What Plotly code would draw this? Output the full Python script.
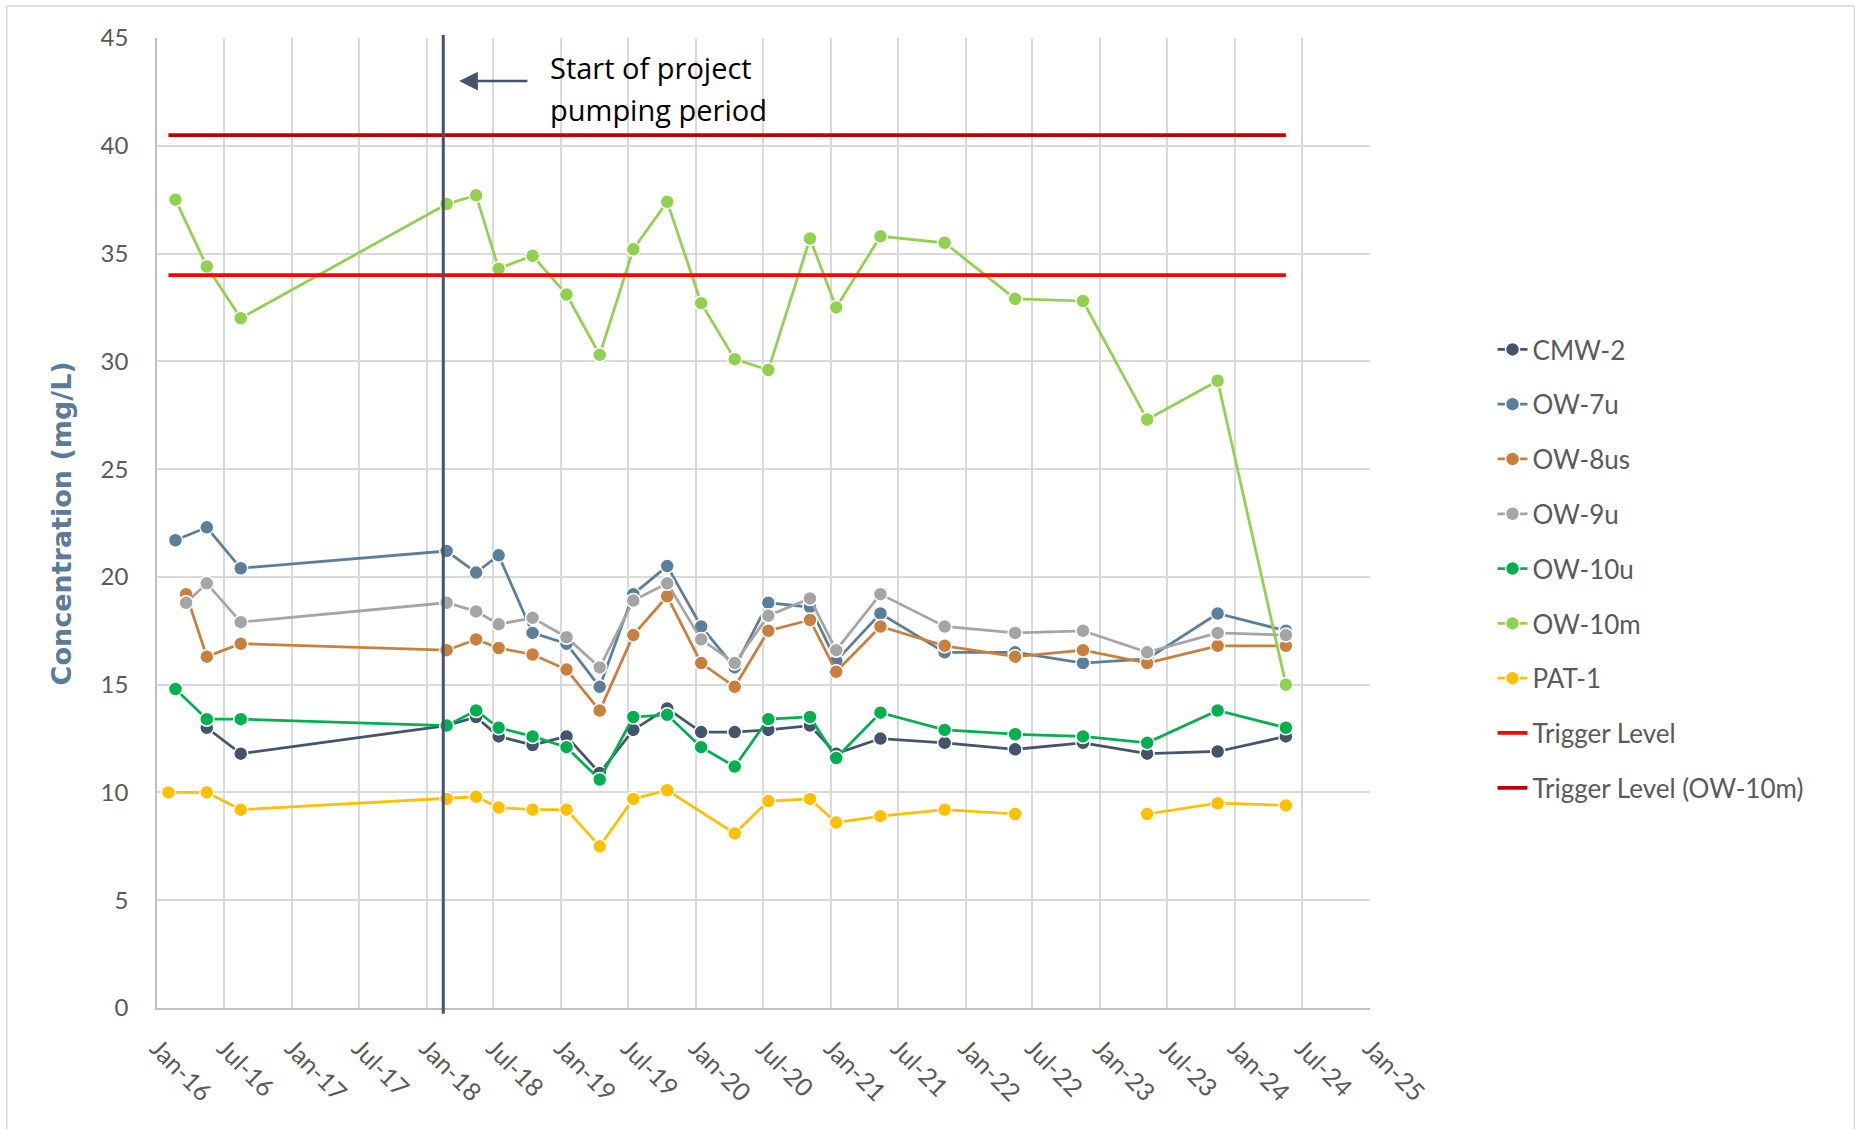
import plotly.graph_objects as go

# ---------------- data ----------------
dates = ["2016-02-20", "2016-03-20", "2016-05-15", "2016-08-15",
         "2018-02-24", "2018-05-15", "2018-07-15", "2018-10-15",
         "2019-01-15", "2019-04-15", "2019-07-15", "2019-10-15",
         "2020-01-15", "2020-04-15", "2020-07-15", "2020-11-05",
         "2021-01-15", "2021-05-15", "2021-11-05", "2022-05-15",
         "2022-11-15", "2023-05-08", "2023-11-15", "2024-05-18"]

cmw_2 = [None, None, 13.0, 11.8, 13.1, 13.5, 12.6, 12.2, 12.6, 10.9, 12.9, 13.9,
         12.8, 12.8, 12.9, 13.1, 11.8, 12.5, 12.3, 12.0, 12.3, 11.8, 11.9, 12.6]
ow_7u = [21.7, None, 22.3, 20.4, 21.2, 20.2, 21.0, 17.4, 16.9, 14.9, 19.2, 20.5,
         17.7, 15.8, 18.8, 18.6, 16.1, 18.3, 16.5, 16.5, 16.0, 16.2, 18.3, 17.5]
ow_8us = [None, 19.2, 16.3, 16.9, 16.6, 17.1, 16.7, 16.4, 15.7, 13.8, 17.3, 19.1,
          16.0, 14.9, 17.5, 18.0, 15.6, 17.7, 16.8, 16.3, 16.6, 16.0, 16.8, 16.8]
ow_9u = [None, 18.8, 19.7, 17.9, 18.8, 18.4, 17.8, 18.1, 17.2, 15.8, 18.9, 19.7,
         17.1, 16.0, 18.2, 19.0, 16.6, 19.2, 17.7, 17.4, 17.5, 16.5, 17.4, 17.3]
ow_10u = [14.8, None, 13.4, 13.4, 13.1, 13.8, 13.0, 12.6, 12.1, 10.6, 13.5, 13.6,
          12.1, 11.2, 13.4, 13.5, 11.6, 13.7, 12.9, 12.7, 12.6, 12.3, 13.8, 13.0]
ow_10m = [37.5, None, 34.4, 32.0, 37.3, 37.7, 34.3, 34.9, 33.1, 30.3, 35.2, 37.4,
          32.7, 30.1, 29.6, 35.7, 32.5, 35.8, 35.5, 32.9, 32.8, 27.3, 29.1, 15.0]

pat_dates = ["2016-02-01", "2016-05-15", "2016-08-15", "2018-02-24", "2018-05-15",
             "2018-07-15", "2018-10-15", "2019-01-15", "2019-04-15", "2019-07-15",
             "2019-10-15", "2020-04-15", "2020-07-15", "2020-11-05", "2021-01-15",
             "2021-05-15", "2021-11-05", "2022-05-15", "2022-11-15", "2023-05-08",
             "2023-11-15", "2024-05-18"]
pat_1 = [10.0, 10.0, 9.2, 9.7, 9.8, 9.3, 9.2, 9.2, 7.5, 9.7, 10.1, 8.1, 9.6, 9.7,
         8.6, 8.9, 9.2, 9.0, None, 9.0, 9.5, 9.4]

trigger_dates = ["2016-02-01", "2024-05-18"]
trigger_level = [34.0, 34.0]
trigger_level_ow10m = [40.5, 40.5]

pumping_start = "2018-02-15"
arrow_head = "2018-03-30"
arrow_tail = "2018-10-05"
arrow_level = 43.0
note_lines = ["Start of project", "pumping period"]
note_x = "2018-11-25"
note_y = [43.65, 41.7]

tick_dates = ["2016-01-01", "2016-07-01", "2017-01-01", "2017-07-01", "2018-01-01",
              "2018-07-01", "2019-01-01", "2019-07-01", "2020-01-01", "2020-07-01",
              "2021-01-01", "2021-07-01", "2022-01-01", "2022-07-01", "2023-01-01",
              "2023-07-01", "2024-01-01", "2024-07-01", "2025-01-01"]
tick_labels = ["Jan-16", "Jul-16", "Jan-17", "Jul-17", "Jan-18", "Jul-18", "Jan-19",
               "Jul-19", "Jan-20", "Jul-20", "Jan-21", "Jul-21", "Jan-22", "Jul-22",
               "Jan-23", "Jul-23", "Jan-24", "Jul-24", "Jan-25"]
y_ticks = [0, 5, 10, 15, 20, 25, 30, 35, 40, 45]

series = [
    ("CMW-2", dates, cmw_2, "#44546A"),
    ("OW-7u", dates, ow_7u, "#5B7F9B"),
    ("OW-8us", dates, ow_8us, "#C9803F"),
    ("OW-9u", dates, ow_9u, "#A5A5A5"),
    ("OW-10u", dates, ow_10u, "#00B050"),
    ("OW-10m", dates, ow_10m, "#92D050"),
]

FONT = "Lato"
TXT = "#595959"

fig = go.Figure()
for name, xs, ys, col in series:
    fig.add_trace(go.Scatter(
        x=xs, y=ys, name=name, mode="lines+markers", connectgaps=True,
        legendgroup=name,
        line=dict(color=col, width=2.75),
        marker=dict(size=14, color=col, line=dict(color="white", width=1.5)),
    ))
fig.add_trace(go.Scatter(
    x=pat_dates, y=pat_1, name="PAT-1", mode="lines+markers", connectgaps=False,
    legendgroup="PAT-1",
    line=dict(color="#FFC000", width=2.75),
    marker=dict(size=14, color="#FFC000", line=dict(color="white", width=1.5)),
))
fig.add_trace(go.Scatter(
    x=trigger_dates, y=trigger_level, name="Trigger Level", mode="lines",
    legendgroup="trig", line=dict(color="#FF0000", width=3.75),
))
fig.add_trace(go.Scatter(
    x=trigger_dates, y=trigger_level_ow10m, name="Trigger Level (OW-10m)", mode="lines",
    legendgroup="trig2", line=dict(color="#C00000", width=3.75),
))

# start-of-pumping vertical line
fig.add_shape(type="line", xref="x", yref="paper", x0=pumping_start, x1=pumping_start,
              y0=-0.006, y1=1.003, line=dict(color="#44546A", width=3), layer="above")

# arrow
fig.add_annotation(x=arrow_head, y=arrow_level, ax=arrow_tail, ay=arrow_level,
                   xref="x", yref="y", axref="x", ayref="y", text="",
                   showarrow=True, arrowhead=2, arrowsize=1.5, arrowwidth=2.5,
                   arrowcolor="#44546A")
for line_text, yy in zip(note_lines, note_y):
    fig.add_annotation(x=note_x, y=yy, xref="x", yref="y", text=line_text,
                       showarrow=False, xanchor="left", yanchor="middle",
                       font=dict(family="Open Sans", size=29, color="#000000"))

# y-axis title
fig.add_annotation(x=-0.0788, y=0.5, xref="paper", yref="paper",
                   text="<b>Concentration (mg/L)</b>", textangle=-90,
                   showarrow=False, xanchor="center", yanchor="middle",
                   font=dict(family="DejaVu Sans", size=27, color="#5B7B96"))

# outer chart border
fig.add_shape(type="rect", xref="paper", yref="paper", x0=-0.1238, x1=1.3993,
              y0=-0.135, y1=1.033, line=dict(color="#D9D9D9", width=1.5),
              layer="below")

fig.update_layout(
    width=1855, height=1129,
    margin=dict(l=157, r=485, t=38, b=121),
    paper_bgcolor="white", plot_bgcolor="white",
    font=dict(family=FONT, color=TXT, size=24),
    showlegend=True,
    legend=dict(x=1.101, y=0.4526, xanchor="left", yanchor="middle",
                font=dict(family=FONT, size=26, color=TXT),
                tracegroupgap=18, itemwidth=30, bgcolor="rgba(0,0,0,0)"),
    xaxis=dict(
        type="date", range=["2016-01-01", "2025-01-01"],
        tickmode="array", tickvals=tick_dates, ticktext=tick_labels,
        tickangle=45, tickfont=dict(family=FONT, size=25, color=TXT),
        showgrid=True, gridcolor="#D9D9D9", gridwidth=1.5,
        showline=True, linecolor="#BFBFBF", linewidth=1.5,
        ticks="outside", ticklen=14, tickcolor="rgba(0,0,0,0)",
        zeroline=False,
    ),
    yaxis=dict(
        range=[0, 45], tickmode="array", tickvals=y_ticks,
        tickfont=dict(family=FONT, size=24, color=TXT),
        showgrid=True, gridcolor="#D9D9D9", gridwidth=1.5,
        showline=True, linecolor="#BFBFBF", linewidth=1.5,
        ticks="outside", ticklen=22, tickcolor="rgba(0,0,0,0)",
        zeroline=False,
    ),
)

fig.write_html("out.html", config={"displayModeBar": False},
               post_script="document.body.style.margin='0';")
